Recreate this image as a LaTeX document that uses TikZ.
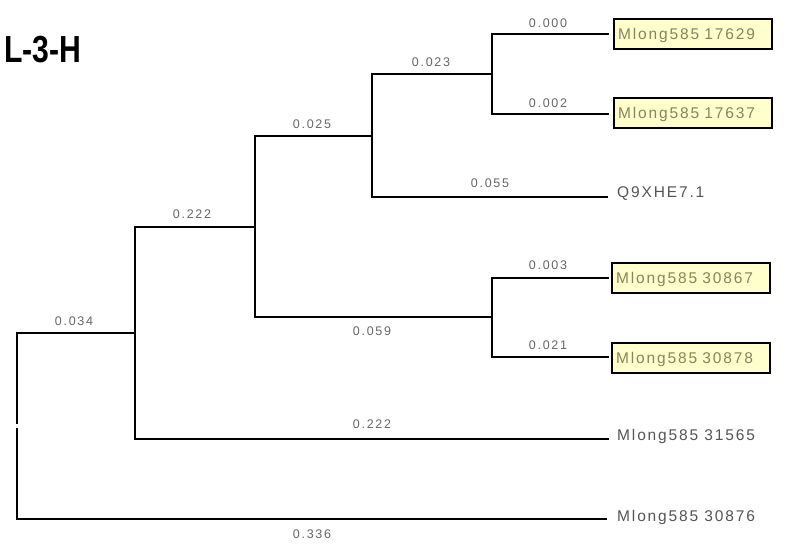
\documentclass[tikz,border=0pt]{standalone}
\usepackage{fontspec}
\setmainfont{Liberation Sans}
\newfontfamily\leaffont[LetterSpace=12]{Liberation Sans}
\newfontfamily\brfont[LetterSpace=14]{Liberation Sans}
\definecolor{brgrey}{HTML}{666666}
\definecolor{leafgrey}{HTML}{555555}
\definecolor{olivetext}{HTML}{858560}
\definecolor{boxfill}{HTML}{FFFFCC}
\tikzset{
  edge/.style={line width=1.4pt, black},
  brlabel/.style={inner sep=0pt, text=brgrey, font=\brfont\fontsize{12.5}{12.5}\selectfont},
  leafplain/.style={inner sep=0pt, anchor=base west, text=leafgrey, font=\leaffont\fontsize{15.5}{15.5}\selectfont},
  leafbox/.style={draw=black, line width=2.2pt, fill=boxfill, text=olivetext, anchor=west,
     font=\leaffont\fontsize{15.5}{15.5}\selectfont, text width=150pt, align=left,
     inner xsep=4pt, minimum height=30pt, text depth=0pt},
}
\begin{document}
\begin{tikzpicture}[x=1pt,y=-1pt]
\useasboundingbox (0,0) rectangle (786,550);
% title
\node[inner sep=0pt, anchor=base west, font=\bfseries\fontsize{37.7}{37.7}\selectfont] (title) at (4,62) {\scalebox{0.8}[1]{L-3-H}};
% internal nodes
\coordinate (R) at (17,426);
\coordinate (A) at (135,333);
\coordinate (B) at (255,227);
\coordinate (C) at (372,136);
\coordinate (D) at (492,74);
\coordinate (E) at (492,317);
% leaf tips
\coordinate (t1) at (609,34);
\coordinate (t2) at (609,114);
\coordinate (t3) at (608,197);
\coordinate (t4) at (609,278);
\coordinate (t5) at (609,357);
\coordinate (t6) at (609,439);
\coordinate (t7) at (607,519);
% leaves
\node[leafbox] (l1) at (613,34) {Mlong585 17629};
\node[leafbox] (l2) at (613,113) {Mlong585 17637};
\node[leafplain] (l3) at (617,197) {Q9XHE7.1};
\node[leafbox] (l4) at (611,278) {Mlong585 30867};
\node[leafbox] (l5) at (611,358) {Mlong585 30878};
\node[leafplain] (l6) at (617,440) {Mlong585 31565};
\node[leafplain] (l7) at (617,521) {Mlong585 30876};
% edges
\draw[edge, shorten <=2pt] (R) |- (A);
\draw[edge, shorten <=2pt] (R) |- (t7);
\draw[edge] (A) |- (B);
\draw[edge] (A) |- (t6);
\draw[edge] (B) |- (C);
\draw[edge] (B) |- (E);
\draw[edge] (C) |- (D);
\draw[edge] (C) |- (t3);
\draw[edge] (D) |- (t1);
\draw[edge] (D) |- (t2);
\draw[edge] (E) |- (t4);
\draw[edge] (E) |- (t5);
% branch labels
\node[brlabel] (b1) at (548,23) {0.000};
\node[brlabel] (b2) at (548,103) {0.002};
\node[brlabel] (b3) at (431,62) {0.023};
\node[brlabel] (b4) at (312,124) {0.025};
\node[brlabel] (b5) at (490,183) {0.055};
\node[brlabel] (b6) at (192,214) {0.222};
\node[brlabel] (b7) at (548,265) {0.003};
\node[brlabel] (b8) at (548,345) {0.021};
\node[brlabel] (b9) at (372,331) {0.059};
\node[brlabel] (b10) at (74,321) {0.034};
\node[brlabel] (b11) at (372,424) {0.222};
\node[brlabel] (b12) at (312,534) {0.336};
\end{tikzpicture}
\end{document}
